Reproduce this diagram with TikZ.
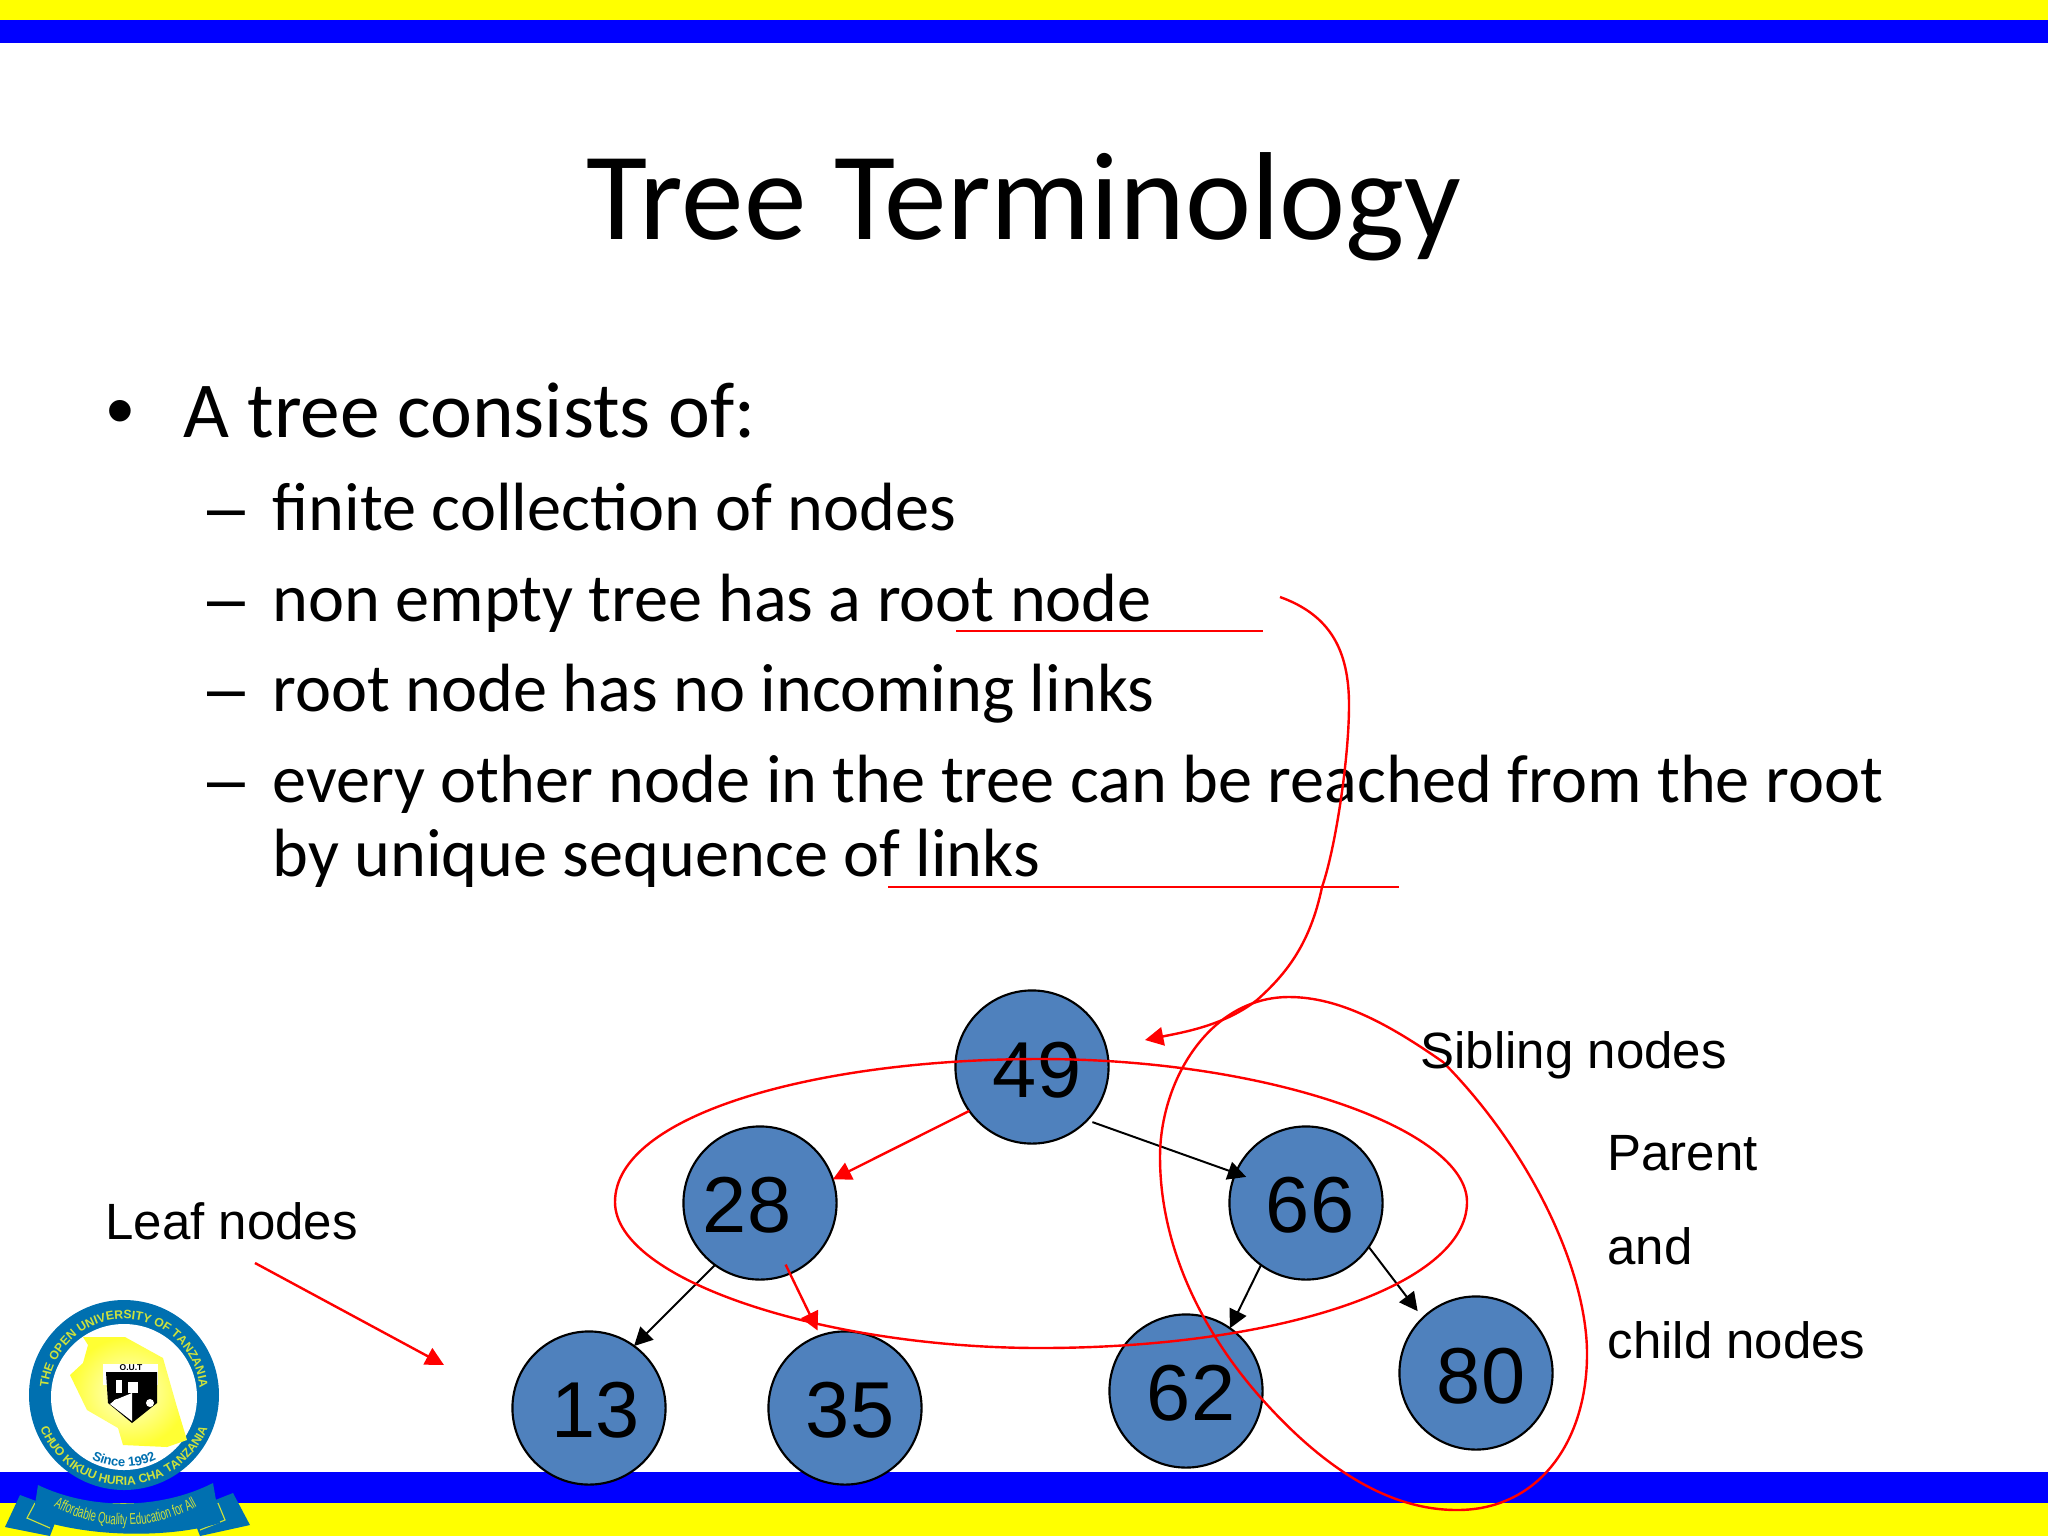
\documentclass[tikz,border=0pt]{standalone}
\usepackage{fontspec}
\setmainfont{Carlito}
\newfontfamily\arialfont{Liberation Sans}
\newfontfamily\logofont[FakeStretch=0.62]{Liberation Sans}
\usetikzlibrary{arrows.meta,shapes.geometric,decorations.text}
\definecolor{B}{RGB}{0, 0, 255}
\definecolor{Y}{RGB}{255, 255, 0}
\definecolor{R}{RGB}{255, 0, 0}
\definecolor{N}{RGB}{79, 129, 189}
\definecolor{L}{RGB}{0, 112, 176}
\definecolor{LY}{RGB}{205, 225, 60}
\tikzset{
  treenode/.style={ellipse,draw=black,fill=N,line width=0.75pt,minimum width=154*0.351pt,minimum height=154*0.351pt,inner sep=0pt,outer sep=0pt},
  treenum/.style={font=\arialfont\fontsize{28}{28}\selectfont,inner sep=0pt},
  lbl/.style={font=\arialfont\fontsize{18}{18}\selectfont,anchor=base west,inner sep=0pt},
  blackarrow/.style={-{Triangle[length=6.5pt,width=6.5pt]},black,line width=0.7pt},
  redarrow/.style={-{Triangle[length=6.5pt,width=6.5pt]},R,line width=0.85pt},
  redline/.style={R,line width=0.85pt},
  lev1/.style={font=\fontsize{28}{28}\selectfont,anchor=base west,inner sep=0pt},
  lev2/.style={font=\fontsize{24.1}{24.1}\selectfont,anchor=base west,inner sep=0pt},
  dash2/.style={font=\arialfont\fontsize{24}{24}\selectfont,anchor=base west,inner sep=0pt}
}
\begin{document}
\begin{tikzpicture}[x=0.0124023cm,y=-0.0124023cm]
	\useasboundingbox (0,0) rectangle (2048,1536);
	%Bandas superior e inferior
	\fill[color=Y] (0,0) rectangle (2048,20);
	\fill[color=B] (0,20) rectangle (2048,43);
	\fill[color=B] (0,1472) rectangle (2048,1503);
	\fill[color=Y] (0,1503) rectangle (2048,1536);

	%Titulo
	\node[font=\fontsize{44.2}{44.2}\selectfont,inner sep=0pt,anchor=base] (title) at (1024,239) {Tree Terminology};

	%Texto
	\node[font=\arialfont\fontsize{28}{28}\selectfont,anchor=base west,inner sep=0pt] (b0) at (106,437) {•};
	\node[lev1] (t0) at (183,437) {A tree consists of:};
	\node[dash2] (b1) at (207,530) {–};
	\node[lev2] (t1) at (272,530) {finite collection of nodes};
	\node[dash2] (b2) at (207,621) {–};
	\node[lev2] (t2) at (272,621) {non empty tree has a root node};
	\node[dash2] (b3) at (207,711) {–};
	\node[lev2] (t3) at (272,711) {root node has no incoming links};
	\node[dash2] (b4) at (207,802) {–};
	\node[lev2] (t4) at (272,802) {every other node in the tree can be reached from the root};
	\node[lev2] (t5) at (272,876) {by unique sequence of links};

	%Nodos del arbol
	\node[treenode] (n49) at (1032,1067) {};
	\node[treenode] (n28) at (760,1203) {};
	\node[treenode] (n66) at (1306,1203) {};
	\node[treenode] (n13) at (589,1408) {};
	\node[treenode] (n35) at (845,1408) {};
	\node[treenode] (n62) at (1186,1391) {};
	\node[treenode] (n80) at (1476,1373) {};

	%Numeros
	\node[treenum] (t49) at (1037,1070) {49};
	\node[treenum] (t28) at (747,1205) {28};
	\node[treenum] (t66) at (1310,1205) {66};
	\node[treenum] (t13) at (596,1410) {13};
	\node[treenum] (t35) at (850,1410) {35};
	\node[treenum] (t62) at (1191,1393) {62};
	\node[treenum] (t80) at (1481,1376) {80};

	%Flechas entre nodos
	\draw[blackarrow,shorten <=2pt,shorten >=-4pt] (n49.-44) -- (n66.157);
	\draw[redarrow] (n49.215) -- (n28.18);
	\draw[blackarrow] (n28.234) -- (n13.54);
	\draw[redarrow,shorten <=-3.5pt,shorten >=2pt] (n28.293) -- (n35.109);
	\draw[blackarrow] (n66.234) -- (n62.55);
	\draw[blackarrow,shorten >=3pt] (n66.325) -- (n80.134);

	%Lineas rojas bajo el texto
	\coordinate (ua) at (956,631);
	\coordinate (ub) at (1263,631);
	\coordinate (uc) at (888,887);
	\coordinate (ud) at (1399,887);
	\draw[redline] (ua) -- (ub);
	\draw[redline] (uc) -- (ud);

	%Curva hacia la raiz
	\coordinate (ca) at (1280,597);
	\coordinate (cb) at (1145,1040);
	\draw[redarrow] (ca) .. controls (1330,615) and (1349,650) .. (1349,705)
		.. controls (1349,760) and (1335,850) .. (1322,887)
		.. controls (1310,945) and (1285,975) .. (1257,1000)
		.. controls (1225,1025) and (1185,1032) .. (cb);

	%Lazo de los hermanos
	\draw[redline] (615,1202) .. controls (615,1115) and (815,1059) .. (1040,1059)
		.. controls (1270,1059) and (1467,1130) .. (1467,1202)
		.. controls (1467,1285) and (1280,1348) .. (1040,1348)
		.. controls (825,1348) and (615,1280) .. (615,1202) -- cycle;

	%Lazo padre e hijos
	\draw[redline] (1289,997) .. controls (1210,997) and (1160,1080) .. (1160,1157)
		.. controls (1160,1250) and (1205,1335) .. (1261,1398)
		.. controls (1325,1470) and (1390,1510) .. (1457,1510)
		.. controls (1540,1510) and (1587,1440) .. (1587,1354)
		.. controls (1587,1270) and (1530,1150) .. (1443,1062)
		.. controls (1390,1025) and (1340,997) .. (1289,997) -- cycle;

	%Hojas
	\coordinate (la) at (255,1263);
	\coordinate (lb) at (444,1365);
	\draw[redarrow] (la) -- (lb);

	%Etiquetas
	\node[lbl] (leaf) at (105,1239) {Leaf nodes};
	\node[lbl] (sib) at (1420,1068) {Sibling nodes};
	\node[lbl] (par) at (1607,1170) {Parent};
	\node[lbl] (and) at (1607,1264) {and};
	\node[lbl] (chi) at (1607,1358) {child nodes};

	%Escudo
	\begin{scope}
		\fill[color=L] (124,1395) circle (95);
		\fill[color=white] (124,1397) circle (73);
		\shade[inner color=Y!15!white,outer color=Y!80!white] (83,1337) -- (125,1337) -- (163,1358) -- (177,1407) -- (187,1440) -- (167,1447) -- (123,1445) -- (118,1428) -- (87,1410) -- (70,1375) -- (83,1363) -- (88,1345) -- cycle;
		\fill[color=white] (103,1364) rectangle (158,1385);
		\fill[color=black] (106,1372) -- (157,1372) -- (157,1403) -- (132,1423) -- (108,1403) -- cycle;
		\fill[color=white] (115,1400) -- (132,1393) -- (132,1421) -- (110,1404) -- cycle;
		\fill[color=white] (116,1380) rectangle (122,1393);
		\fill[color=white] (128,1382) rectangle (138,1393);
		\fill[color=white] (117,1403) circle (4);
		\fill[color=white] (150,1403) circle (4);
		\node[font=\arialfont\bfseries\fontsize{3}{3}\selectfont,inner sep=0pt] (shieldtxt) at (131,1368) {O.U.T};
		\path[decorate,decoration={text along path,text align=center,text={|\arialfont\bfseries\fontsize{4.3}{4.3}\selectfont\color{LY}|THE OPEN UNIVERSITY OF TANZANIA}}] (124,1395) ++(172:76) arc[start angle=172,end angle=368,radius=76];
		\path[decorate,decoration={text along path,text align=center,text={|\arialfont\bfseries\fontsize{4.3}{4.3}\selectfont\color{LY}|CHUO KIKUU HURIA CHA TANZANIA}}] (124,1395) ++(168:90) arc[start angle=168,end angle=12,radius=90];
		\path[decorate,decoration={text along path,text align=center,text={|\arialfont\bfseries\fontsize{4.6}{4.6}\selectfont\color{L}|Since 1992}}] (124,1397) ++(130:70) arc[start angle=130,end angle=50,radius=70];
		\fill[color=L] (20,1495) -- (5,1527) -- (50,1536) -- (60,1510) -- cycle;
		\fill[color=L] (233,1493) -- (250,1525) -- (200,1536) -- (190,1510) -- cycle;
		\draw[color=LY,line width=0.4pt] (35,1503) -- (27,1518) -- (50,1528);
		\draw[color=LY,line width=0.4pt] (218,1503) -- (225,1520) -- (200,1530);
		\fill[color=L] (38,1485) .. controls (90,1510) and (160,1510) .. (213,1483) -- (220,1523) .. controls (170,1538) and (90,1538) .. (33,1518) -- cycle;
		\path[decorate,decoration={text along path,text align=center,text={|\logofont\fontsize{5.5}{5.5}\selectfont\color{LY}|Affordable Quality Education for All}}] (36,1495) .. controls (90,1535) and (160,1535) .. (215,1495);
	\end{scope}
\end{tikzpicture}
\end{document}
